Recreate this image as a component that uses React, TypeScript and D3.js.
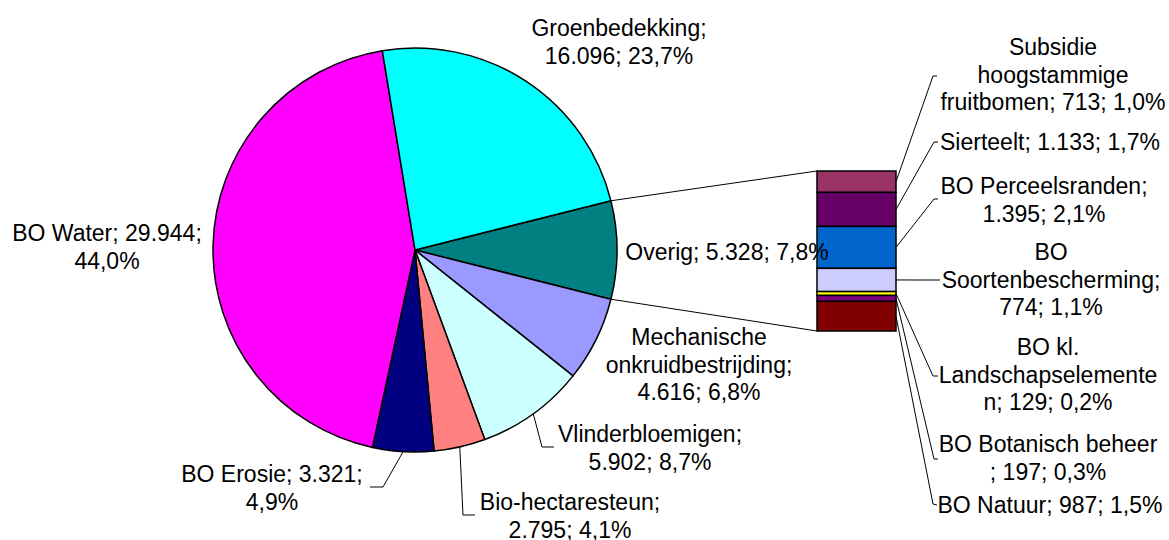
import React, { useEffect, useRef } from 'react';
import * as d3 from 'd3';

// pie slices, clockwise starting with the "Overig" slice that is split out into the bar
const pieNames = ['Overig', 'Mechanische onkruidbestrijding', 'Vlinderbloemigen', 'Bio-hectaresteun', 'BO Erosie', 'BO Water', 'Groenbedekking'];
const pieValues = [null, 4616, 5902, 2795, 3321, 29944, 16096];
const pieColors = ['#008080', '#9999FF', '#CCFFFF', '#FF8080', '#000080', '#FF00FF', '#00FFFF'];

// bar segments (top to bottom) that make up "Overig"
const barNames = ['Subsidie hoogstammige fruitbomen', 'Sierteelt', 'BO Perceelsranden', 'BO Soortenbescherming', 'BO kl. Landschapselementen', 'BO Botanisch beheer', 'BO Natuur'];
const barValues = [713, 1133, 1395, 774, 129, 197, 987];
const barColors = ['#993366', '#660066', '#0066CC', '#CCCCFF', '#FFFF00', '#800080', '#800000'];

// label placement: centre x, first baseline, where the text wraps, optional leader bend + end
const labelLayout: Record<string, any> = {
  'Overig': { x: 727, y: 260, breaks: [] },
  'Mechanische onkruidbestrijding': { x: 699, y: 345, breaks: [11, 31] },
  'Vlinderbloemigen': { x: 650, y: 442, breaks: [17], leader: [[542, 447], [554, 447]] },
  'Bio-hectaresteun': { x: 570, y: 510, breaks: [17], leader: [[463, 515], [475, 515]] },
  'BO Erosie': { x: 272, y: 482, breaks: [17], leader: [[383, 487], [370, 487]] },
  'BO Water': { x: 107, y: 241, breaks: [17] },
  'Groenbedekking': { x: 619, y: 36, breaks: [15] },
  'Subsidie hoogstammige fruitbomen': { x: 1053, y: 55, breaks: [8, 21], leader: [[933, 76], [937, 76]] },
  'Sierteelt': { x: 1050, y: 150, breaks: [], leader: [[934, 142], [938, 142]] },
  'BO Perceelsranden': { x: 1044, y: 194, breaks: [18], leader: [[934, 199], [938, 199]] },
  'BO Soortenbescherming': { x: 1051, y: 260, breaks: [2, 22], leader: [[920, 280], [940, 280]] },
  'BO kl. Landschapselementen': { x: 1048, y: 355, breaks: [6, 25], leader: [[933, 376], [938, 376]] },
  'BO Botanisch beheer': { x: 1048, y: 452, breaks: [19], leader: [[934, 459], [938, 459]] },
  'BO Natuur': { x: 1050, y: 513, breaks: [], leader: [[933, 504], [937, 505]] },
};

const nl = d3.formatLocale({ decimal: ',', thousands: '.', grouping: [3], currency: ['€', ''] });
const fmtNum = nl.format(',d');
const fmtPct = nl.format('.1%');

const W = 1169;
const H = 540;
const FONT = "'Liberation Sans', Arial, sans-serif";
const LINE_H = 27.5;

const App = () => {
  const svgRef = useRef<SVGSVGElement>(null);

  useEffect(() => {
    const svg = d3.select(svgRef.current);
    svg.selectAll('*').remove();

    const overig = d3.sum(barValues);
    const values = pieValues.map((v) => (v === null ? overig : v)) as number[];
    const total = d3.sum(values);

    const cx = 415, cy = 250, r = 202;
    const overigAngle = (overig / total) * Math.PI * 2;
    const start = Math.PI / 2 - overigAngle / 2;

    const pie = d3.pie<number>().sort(null).value((d) => d)
      .startAngle(start).endAngle(start + Math.PI * 2);
    const arcs = pie(values);
    const arc = d3.arc<d3.PieArcDatum<number>>().innerRadius(0).outerRadius(r);
    const edge = (a: number): [number, number] => [cx + r * Math.sin(a), cy - r * Math.cos(a)];

    // bar of pie
    const barX0 = 817, barX1 = 896;
    const y = d3.scaleLinear().domain([0, overig]).range([171, 331]);
    const cum = d3.cumsum(barValues);
    const segs = barValues.map((v, i) => ({ name: barNames[i], y0: y(cum[i] - v), y1: y(cum[i]), color: barColors[i], value: v }));

    // connector lines from the slice to the bar
    const ov = arcs[0];
    const g = svg.append('g');
    [[edge(ov.startAngle), [barX0, y(0)]], [edge(ov.endAngle), [barX0, y(overig)]]].forEach(([a, b]) => {
      g.append('line')
        .attr('x1', a[0]).attr('y1', a[1]).attr('x2', b[0]).attr('y2', b[1])
        .style('stroke', '#000').style('stroke-width', '1px');
    });

    // pie slices
    g.append('g').attr('transform', `translate(${cx},${cy})`)
      .selectAll('path')
      .data(arcs)
      .join('path')
      .attr('d', arc)
      .style('fill', (_, i) => pieColors[i])
      .style('stroke', '#000')
      .style('stroke-width', '1.5px')
      .style('stroke-linejoin', 'round');

    // bar segments
    g.append('g').selectAll('rect')
      .data(segs)
      .join('rect')
      .attr('x', barX0)
      .attr('y', (d) => d.y0)
      .attr('width', barX1 - barX0)
      .attr('height', (d) => d.y1 - d.y0)
      .style('fill', (d) => d.color)
      .style('stroke', '#000')
      .style('stroke-width', '1.5px');

    const drawLabel = (name: string, value: number, anchor: [number, number]) => {
      const lay = labelLayout[name];
      const full = `${name}; ${fmtNum(value)}; ${fmtPct(value / total)}`;
      const cuts = [0, ...lay.breaks, full.length];
      const lines = cuts.slice(0, -1).map((c: number, i: number) => full.slice(c, cuts[i + 1]).trim());

      if (lay.leader) {
        const pts = [anchor, ...lay.leader];
        g.append('path')
          .attr('d', d3.line()(pts))
          .style('fill', 'none')
          .style('stroke', '#000')
          .style('stroke-width', '1px');
      }

      const t = g.append('text')
        .attr('x', lay.x)
        .attr('y', lay.y)
        .style('text-anchor', 'middle')
        .style('font-family', FONT)
        .style('font-size', '23px')
        .style('fill', '#000');
      lines.forEach((l: string, i: number) => {
        t.append('tspan').attr('x', lay.x).attr('y', lay.y + i * LINE_H).text(l);
      });
    };

    arcs.forEach((a, i) => {
      const mid = (a.startAngle + a.endAngle) / 2;
      drawLabel(pieNames[i], a.value, edge(mid));
    });
    segs.forEach((s) => {
      drawLabel(s.name, s.value, [barX1, (s.y0 + s.y1) / 2]);
    });
  }, []);

  return (
    <svg
      ref={svgRef}
      width={W}
      height={H}
      style={{ position: 'absolute', left: 0, top: 0, background: '#fff' }}
    />
  );
};

export default App;
